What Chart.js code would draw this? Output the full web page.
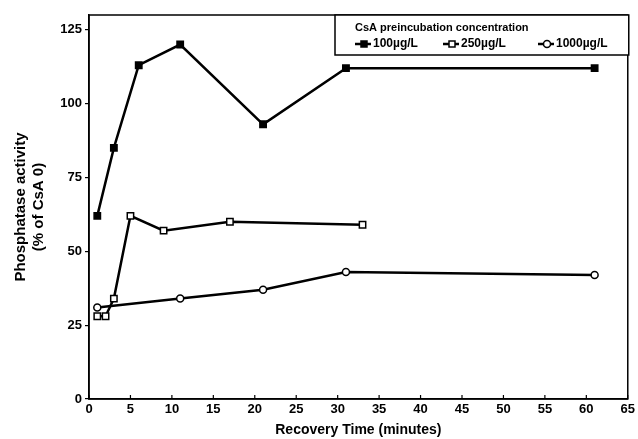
<!DOCTYPE html>
<html>
<head>
<meta charset="utf-8">
<script src="https://cdn.jsdelivr.net/npm/chart.js@4.4.0/dist/chart.umd.min.js"></script>
<style>
  html, body { margin: 0; padding: 0; background: #fff; }
  #wrap { width: 638px; height: 439px; position: relative; }
</style>
</head>
<body>
<div id="wrap"><canvas id="chart"></canvas></div>
<script>
// recovery time (minutes) and activity (% of CsA 0) per preincubation concentration
const time100 = [1, 3, 6, 11, 21, 31, 61]
const act100 = [62, 85, 113, 120, 93, 112, 112]

const time250 = [1, 2, 3, 5, 9, 17, 33]
const act250 = [28, 28, 34, 62, 57, 60, 59]

const time1000 = [1, 11, 21, 31, 61]
const act1000 = [31, 34, 37, 43, 42]

const seriesLabels = ['100µg/L', '250µg/L', '1000µg/L']
const legendTitle = 'CsA preincubation concentration'
const yTicks = [0, 25, 50, 75, 100, 125]
const xTicks = [0, 5, 10, 15, 20, 25, 30, 35, 40, 45, 50, 55, 60, 65]

const toPoints = (xs, ys) => xs.map((x, i) => ({ x, y: ys[i] }))

const FONT = '"Liberation Sans", Arial, sans-serif'

// frame on top/right + inward x ticks
const framePlugin = {
  id: 'frame',
  afterDraw(chart) {
    const { ctx, chartArea: a, scales } = chart
    ctx.save()
    ctx.strokeStyle = '#000'
    ctx.lineWidth = 1.5
    ctx.strokeRect(a.left, a.top, a.right - a.left, a.bottom - a.top)
    ctx.lineWidth = 1.2
    scales.x.ticks.forEach(t => {
      const px = scales.x.getPixelForValue(t.value)
      ctx.beginPath()
      ctx.moveTo(px, a.bottom)
      ctx.lineTo(px, a.bottom - 4)
      ctx.stroke()
    })
    ctx.restore()
  }
}

// boxed legend with title, drawn in the top right corner
const boxLegend = {
  id: 'boxLegend',
  afterDraw(chart) {
    const { ctx, chartArea: a } = chart
    const left = a.left + 246, top = a.top, right = a.right + 1, bottom = a.top + 40
    ctx.save()
    ctx.fillStyle = '#fff'
    ctx.fillRect(left, top, right - left, bottom - top)
    ctx.strokeStyle = '#000'
    ctx.lineWidth = 1.5
    ctx.strokeRect(left, top, right - left, bottom - top)
    ctx.fillStyle = '#000'
    ctx.textBaseline = 'middle'
    ctx.font = 'bold 11px ' + FONT
    ctx.fillText(legendTitle, left + 20, top + 13)
    const itemX = [left + 20, left + 108, left + 203]
    chart.data.datasets.forEach((ds, i) => {
      const x = itemX[i], y = top + 29
      ctx.strokeStyle = '#000'
      ctx.lineWidth = 2.5
      ctx.beginPath()
      ctx.moveTo(x, y)
      ctx.lineTo(x + 16, y)
      ctx.stroke()
      ctx.lineWidth = 1.5
      ctx.fillStyle = ds.pointBackgroundColor
      if (ds.pointStyle === 'circle') {
        ctx.beginPath()
        ctx.arc(x + 9, y, 3.5, 0, Math.PI * 2)
        ctx.fill()
        ctx.stroke()
      } else {
        ctx.fillRect(x + 6, y - 3, 6, 6)
        ctx.strokeRect(x + 6, y - 3, 6, 6)
      }
      ctx.fillStyle = '#000'
      ctx.font = 'bold 12px ' + FONT
      ctx.fillText(seriesLabels[i], x + 18, y)
    })
    ctx.restore()
  }
}

const lineStyle = {
  borderColor: '#000',
  borderWidth: 2.5,
  pointBorderColor: '#000',
  pointBorderWidth: 1.5,
  tension: 0,
  fill: false
}

new Chart(document.getElementById('chart'), {
  type: 'line',
  data: {
    datasets: [
      { ...lineStyle, label: seriesLabels[0], data: toPoints(time100, act100),
        pointStyle: 'rect', pointRadius: 4.5, pointBackgroundColor: '#000' },
      { ...lineStyle, label: seriesLabels[1], data: toPoints(time250, act250),
        pointStyle: 'rect', pointRadius: 4.5, pointBackgroundColor: '#fff' },
      { ...lineStyle, label: seriesLabels[2], data: toPoints(time1000, act1000),
        pointStyle: 'circle', pointRadius: 3.5, pointBackgroundColor: '#fff' }
    ]
  },
  options: {
    responsive: true,
    maintainAspectRatio: false,
    animation: false,
    layout: { padding: { top: 15, right: 10, left: 12, bottom: 0 } },
    plugins: {
      legend: { display: false },
      tooltip: { enabled: false }
    },
    scales: {
      x: {
        type: 'linear',
        min: 0,
        max: 65,
        afterBuildTicks: s => { s.ticks = xTicks.map(v => ({ value: v })) },
        afterFit: s => { s.height = 40 },
        grid: { display: false, drawTicks: false },
        border: { color: '#000', width: 1.5 },
        ticks: { color: '#000', padding: 3, maxRotation: 0, autoSkip: false,
                 font: { family: FONT, size: 13, weight: 'bold' } },
        title: { display: true, text: 'Recovery Time (minutes)', color: '#000',
                 padding: { top: 2, bottom: 0 },
                 font: { family: FONT, size: 14, weight: 'bold' } }
      },
      y: {
        min: 0,
        max: 130,
        afterBuildTicks: s => { s.ticks = yTicks.map(v => ({ value: v })) },
        afterFit: s => { s.width = 77 },
        grid: { drawOnChartArea: false, drawTicks: true, tickLength: 4, color: '#000', lineWidth: 1.2 },
        border: { color: '#000', width: 1.5 },
        ticks: { color: '#000', padding: 3,
                 font: { family: FONT, size: 13, weight: 'bold' } },
        title: { display: true, text: ['Phosphatase activity', '(% of CsA 0)'], color: '#000',
                 padding: { top: 0, bottom: 0 },
                 font: { family: FONT, size: 15, weight: 'bold' } }
      }
    }
  },
  plugins: [framePlugin, boxLegend]
})
</script>
</body>
</html>
